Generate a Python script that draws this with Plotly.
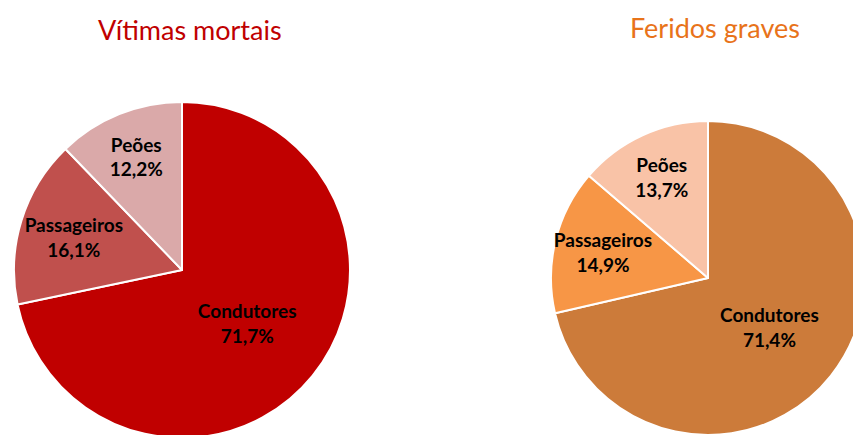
import plotly.graph_objects as go

categories = ["Condutores", "Passageiros", "Peões"]
vitimas_mortais = [71.7, 16.1, 12.2]
feridos_graves = [71.4, 14.9, 13.7]
titles = ["Vítimas mortais", "Feridos graves"]

colors_mortais = ["#C00000", "#C0504D", "#DAA9A9"]
colors_feridos = ["#CC7B3A", "#F79646", "#F9C3A7"]

W, H = 870, 440
FONT = "Lato, 'Open Sans', sans-serif"


def texts(vals):
    return [f"<b>{c}<br>{v:.1f}%</b>".replace(".", ",") for c, v in zip(categories, vals)]


fig = go.Figure()
fig.add_trace(go.Pie(
    labels=categories, values=vitimas_mortais, sort=False, direction="clockwise", rotation=0,
    marker=dict(colors=colors_mortais, line=dict(color="white", width=2)),
    text=texts(vitimas_mortais), textinfo="text", textposition="inside",
    insidetextorientation="horizontal",
    textfont=dict(family=FONT, size=19, color="black"),
    domain=dict(x=[14 / W, 350 / W], y=[(H - 438) / H, (H - 102) / H]),
    hoverinfo="label+percent", showlegend=False,
))
fig.add_trace(go.Pie(
    labels=categories, values=feridos_graves, sort=False, direction="clockwise", rotation=0,
    marker=dict(colors=colors_feridos, line=dict(color="white", width=2)),
    text=texts(feridos_graves), textinfo="text", textposition="inside",
    insidetextorientation="horizontal",
    textfont=dict(family=FONT, size=19, color="black"),
    domain=dict(x=[551 / W, 865 / W], y=[(H - 435) / H, (H - 121) / H]),
    hoverinfo="label+percent", showlegend=False,
))

fig.add_annotation(text=titles[0], x=190 / W, y=1 - 30 / H, xref="paper", yref="paper",
                   showarrow=False, xanchor="center", yanchor="middle",
                   font=dict(family=FONT, size=27, color="#C00000"))
fig.add_annotation(text=titles[1], x=715 / W, y=1 - 28 / H, xref="paper", yref="paper",
                   showarrow=False, xanchor="center", yanchor="middle",
                   font=dict(family=FONT, size=27, color="#E8731A"))

fig.update_layout(
    width=W, height=H, margin=dict(l=0, r=0, t=0, b=0),
    paper_bgcolor="white", plot_bgcolor="white",
    uniformtext=dict(mode="show", minsize=19),
)

fig.write_html("out.html", config={"displayModeBar": False}, post_script=(
    "document.body.style.margin='0';document.body.style.overflow='hidden';"
    "document.documentElement.style.overflow='hidden';"
))
